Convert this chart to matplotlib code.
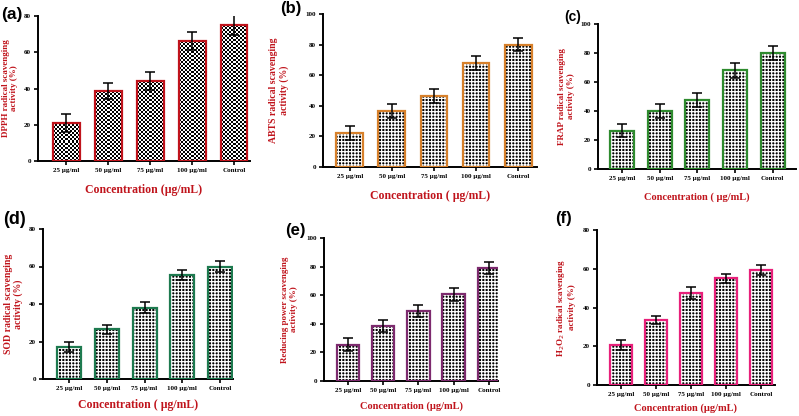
import matplotlib
matplotlib.use("Agg")
import matplotlib.pyplot as plt
import numpy as np

# ---- data ----
categories = ["25 µg/ml", "50 µg/ml", "75 µg/ml", "100 µg/ml", "Control"]

dpph_vals = [21, 38.5, 44, 66, 75]
dpph_err = [5, 4.5, 5, 5, 5.5]

abts_vals = [22, 36.5, 46.5, 68, 80]
abts_err = [4.5, 4.5, 4.5, 4.5, 4]

frap_vals = [26.5, 40, 47.5, 68, 80]
frap_err = [4.5, 4.5, 5, 5, 4.5]

sod_vals = [17, 26.5, 38, 55.5, 60]
sod_err = [2.5, 2.5, 3, 2.5, 3]

rp_vals = [25.5, 38.5, 49, 60.5, 79]
rp_err = [4.5, 4.5, 4, 4.5, 4]

h2o2_vals = [20.5, 33.5, 47.5, 55, 59.5]
h2o2_err = [2.5, 2, 3, 2.5, 2.5]

W, H = 799, 416
RED = "#c0141c"
BAR_W = 0.64

plt.rcParams["hatch.linewidth"] = 0.9
fig = plt.figure(figsize=(W / 100, H / 100), dpi=100)
fig.patch.set_facecolor("white")


def px_axes(left, top, right, bottom):
    # pixel box -> figure fraction
    return fig.add_axes([left / W, 1 - bottom / H, (right - left) / W, (bottom - top) / H])


def checker_fill(ax, bars, box, xlim, ymax, cell_px=2):
    # fine black/white checkerboard texture clipped to each bar
    px_per_x = (box[2] - box[0]) / (xlim[1] - xlim[0])
    px_per_y = (box[3] - box[1]) / ymax
    for b in bars:
        x0, w, h = b.get_x(), b.get_width(), b.get_height()
        nx = max(1, int(round(w * px_per_x / cell_px)))
        ny = max(1, int(round(h * px_per_y / cell_px)))
        tex = (np.add.outer(np.arange(ny), np.arange(nx)) % 2).astype(float)
        im = ax.imshow(tex, extent=[x0, x0 + w, 0, h], cmap="gray", vmin=0, vmax=1,
                       interpolation="nearest", aspect="auto", zorder=2, origin="lower")
        im.set_clip_path(b)


def panel(box, xlim, ymax, vals, errs, edge, ylabel, xlabel, letter, letter_xy,
          letter_size, checker=False, xlabel_size=7.5, ylabel_pad=4, xlabel_pad=8,
          ylabel_size=6.5):
    ax = px_axes(*box)
    x = np.arange(len(categories))
    if checker:
        base = ax.bar(x, vals, width=BAR_W, color="white", linewidth=0, zorder=1)
        checker_fill(ax, base, box, xlim, ymax)
    else:
        ax.bar(x, vals, width=BAR_W, color="black", linewidth=0, zorder=2)
        ax.bar(x, vals, width=BAR_W, color="none", edgecolor="white",
               hatch="+++++", linewidth=0, zorder=3)
    ax.bar(x, vals, width=BAR_W, color="none", edgecolor=edge, linewidth=1.6, zorder=4)
    ax.errorbar(x, vals, yerr=errs, fmt="none", ecolor="black", elinewidth=1.1,
                capsize=3.5, capthick=1.1, zorder=5)

    ax.set_xlim(*xlim)
    ax.set_ylim(0, ymax)
    ax.set_yticks(np.arange(0, ymax + 1, 20))
    ax.set_xticks(x)
    ax.set_xticklabels(categories, fontfamily="Liberation Serif", fontweight="bold", fontsize=5)
    for lab in ax.get_yticklabels():
        lab.set_fontfamily("Liberation Serif")
        lab.set_fontweight("bold")
        lab.set_fontsize(5)
    ax.tick_params(axis="both", length=3, width=1.2, pad=2)
    for s in ("top", "right"):
        ax.spines[s].set_visible(False)
    for s in ("left", "bottom"):
        ax.spines[s].set_linewidth(1.4)
    ax.set_ylabel(ylabel, color=RED, fontfamily="Liberation Serif", fontweight="bold",
                  fontsize=ylabel_size, labelpad=ylabel_pad, linespacing=1.15)
    ax.set_xlabel(xlabel, color=RED, fontfamily="Liberation Serif", fontweight="bold",
                  fontsize=xlabel_size, labelpad=xlabel_pad)
    fig.text(letter_xy[0] / W, 1 - letter_xy[1] / H, letter, fontfamily="Liberation Sans",
             fontweight="bold", fontsize=letter_size, ha="left", va="center")
    return ax


panel((38, 16, 250, 161), (-0.67, 4.38), 80, dpph_vals, dpph_err, RED,
      "DPPH radical scavenging\nactivity (%)", "Concentration (µg/mL)",
      "(a)", (1, 14), 12.5, checker=True, xlabel_size=8.5)
panel((323, 14, 537, 167), (-0.64, 4.45), 100, abts_vals, abts_err, "#d7802a",
      "ABTS radical scavenging\nactivity (%)", "Concentration ( µg/mL)",
      "(b)", (280, 9), 12, xlabel_size=8.5, ylabel_pad=12, ylabel_size=7)
panel((598, 24, 796, 169), (-0.64, 4.62), 100, frap_vals, frap_err, "#2e8b2e",
      "FRAP radical scavenging\nactivity (%)", "Concentration ( µg/mL)",
      "(c)", (564, 17), 10, xlabel_size=7.5)
panel((43, 229, 233, 379), (-0.69, 4.34), 80, sod_vals, sod_err, "#1d7a4f",
      "SOD radical scavenging\nactivity (%)", "Concentration ( µg/mL)",
      "(d)", (3, 220), 13, xlabel_size=8.5, xlabel_pad=6, ylabel_size=7)
panel((324, 238, 498, 381), (-0.68, 4.26), 100, rp_vals, rp_err, "#7d2a6e",
      "Reducing power scavenging\nactivity (%)", "Concentration (µg/mL)",
      "(e)", (285, 230), 12, xlabel_size=7.5, xlabel_pad=6, ylabel_pad=6)
panel((597, 230, 775, 385), (-0.69, 4.4), 80, h2o2_vals, h2o2_err, "#e8207a",
      "H$_2$O$_2$ radical scavenging\nactivity (%)", "Concentration (µg/mL)",
      "(f)", (555, 219), 12, xlabel_size=7.5, xlabel_pad=5, ylabel_pad=5)

fig.savefig("out.png", dpi=100, facecolor="white")
